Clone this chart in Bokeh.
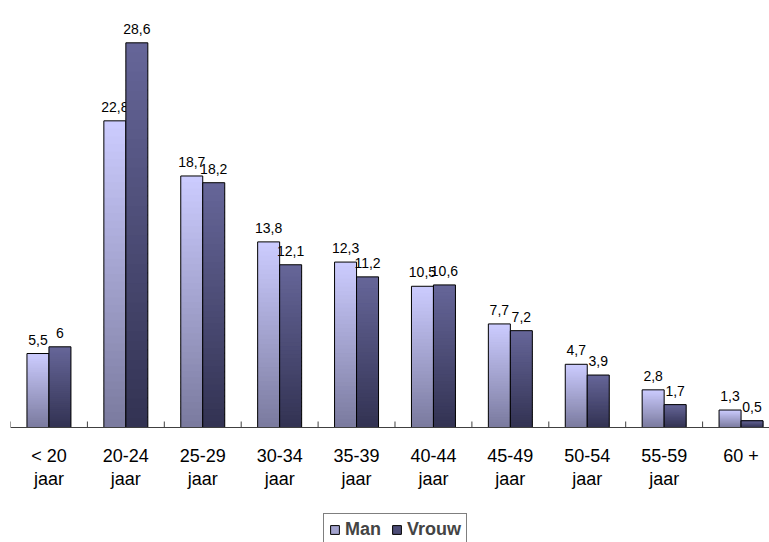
import math
from bokeh.plotting import figure
from bokeh.models import (Range1d, Legend, LegendItem, ColumnDataSource, Span)
from bokeh.embed import file_html
from bokeh.resources import INLINE
from bokeh.core.properties import value

categories = ["< 20\njaar", "20-24\njaar", "25-29\njaar", "30-34\njaar", "35-39\njaar",
              "40-44\njaar", "45-49\njaar", "50-54\njaar", "55-59\njaar", "60 +"]
man = [5.5, 22.8, 18.7, 13.8, 12.3, 10.5, 7.7, 4.7, 2.8, 1.3]
vrouw = [6, 28.6, 18.2, 12.1, 11.2, 10.6, 7.2, 3.9, 1.7, 0.5]

FONT = "Liberation Sans"
MAN_TOP, MAN_BOT = (204, 204, 255), (122, 122, 158)
VR_TOP, VR_BOT = (102, 102, 153), (50, 50, 82)
BAR_W = 0.286
N_SLICES = 40
OVERLAP = 0.12

# plot frame spans the whole lower area; value 0 sits at the category baseline
p = figure(frame_width=759, frame_height=522, min_border_left=10, min_border_right=0,
           min_border_top=20, min_border_bottom=0,
           x_range=Range1d(0, 9.87), y_range=Range1d(-8.55, 30.26),
           x_axis_location=None, y_axis_location=None,
           output_backend="svg", toolbar_location=None)
p.xgrid.visible = False
p.ygrid.visible = False
p.outline_line_color = None
p.background_fill_color = "white"
p.border_fill_color = "white"


def hexcol(c):
    return "#%02x%02x%02x" % tuple(int(round(v)) for v in c)


def gradient_bars(vals, offset, top_c, bot_c):
    xs_l, xs_r, bots, tops, cols = [], [], [], [], []
    for i, v in enumerate(vals):
        xc = i + 0.5 + offset
        for k in range(N_SLICES):
            t = (k + 0.5) / N_SLICES
            c = [bot_c[j] + (top_c[j] - bot_c[j]) * t for j in range(3)]
            xs_l.append(xc - BAR_W / 2)
            xs_r.append(xc + BAR_W / 2)
            bots.append(v * k / N_SLICES)
            tops.append(min(v, v * (k + 1) / N_SLICES + OVERLAP))
            cols.append(hexcol(c))
    src = ColumnDataSource(dict(left=xs_l, right=xs_r, bottom=bots, top=tops, color=cols))
    p.quad(left="left", right="right", bottom="bottom", top="top", fill_color="color",
           line_color=None, source=src)
    xc = [i + 0.5 + offset for i in range(len(vals))]
    p.vbar(x=xc, top=vals, width=BAR_W, bottom=0, fill_color=None,
           line_color="#000000", line_width=1)
    labels = [f"{v:g}".replace(".", ",") for v in vals]
    p.text(x=xc, y=vals, text=labels, text_align="center", text_baseline="bottom",
           y_offset=-9, text_font=value(FONT), text_font_size="14px", text_color="#000000")


gradient_bars(man, -BAR_W / 2, MAN_TOP, MAN_BOT)
gradient_bars(vrouw, BAR_W / 2, VR_TOP, VR_BOT)

# category axis: baseline, tick marks at category boundaries, labels at centres
p.add_layout(Span(location=0, dimension="width", line_color="#404040", line_width=1))
bounds = list(range(len(categories) + 1))
p.ray(x=bounds, y=[0] * len(bounds), length=6, length_units="screen", angle=math.pi / 2,
      line_color="#404040", line_width=1)
centers = [i + 0.5 for i in range(len(categories))]
p.text(x=centers, y=[0] * len(centers), text=categories, text_align="center",
       text_baseline="top", y_offset=18, text_font=value(FONT), text_font_size="18px",
       text_line_height=1.17, text_color="#000000")

# legend proxies (hidden renderers, only their legend swatches are shown)
rm = p.quad(left=[0], right=[0], bottom=[0], top=[0], fill_color=hexcol(
    [(a + b) / 2 for a, b in zip(MAN_TOP, MAN_BOT)]), line_color="#000000", visible=False)
rv = p.quad(left=[0], right=[0], bottom=[0], top=[0], fill_color=hexcol(
    [(a + b) / 2 for a, b in zip(VR_TOP, VR_BOT)]), line_color="#000000", visible=False)
legend = Legend(items=[LegendItem(label="Man", renderers=[rm]),
                       LegendItem(label="Vrouw", renderers=[rv])],
                orientation="horizontal", location=(313, -4),
                label_text_font=FONT, label_text_font_style="bold",
                label_text_font_size="18px", glyph_width=11, glyph_height=11,
                label_standoff=5, spacing=10, padding=5, margin=0,
                border_line_color="#000000", border_line_width=1,
                background_fill_color="white", background_fill_alpha=1,
                label_height=20)
p.add_layout(legend, "center")

open("out.html", "w").write(file_html(p, INLINE))
